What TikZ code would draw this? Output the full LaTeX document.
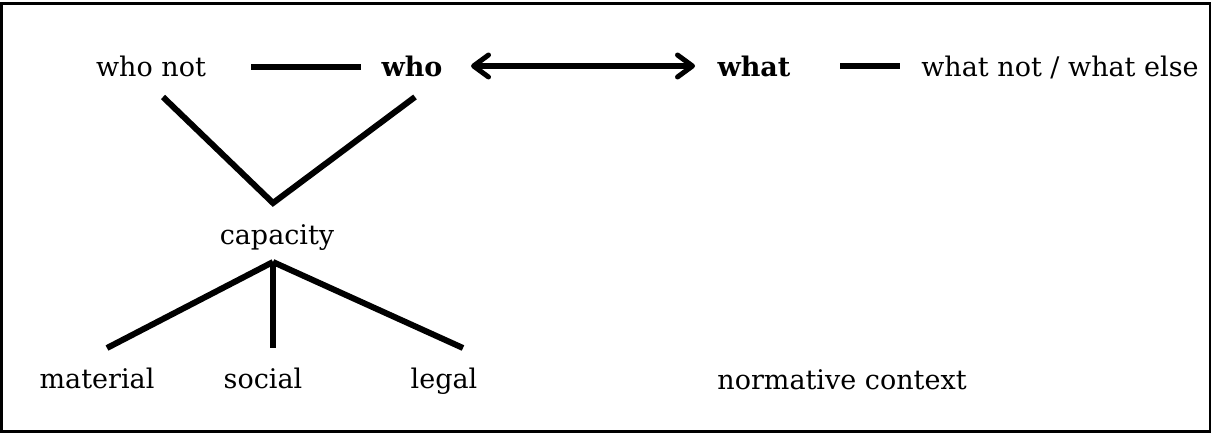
\documentclass[tikz,border=0pt]{standalone}
\usepackage{fontspec}
\setmainfont{DejaVu Serif}
\usetikzlibrary{arrows.meta}
\begin{document}
\begin{tikzpicture}[x=1pt,y=-1pt,
    lbl/.style={anchor=base,inner sep=0pt,font=\fontsize{27}{30}\selectfont},
    conn/.style={line width=6pt},
    barb/.tip={Straight Barb[length=15pt,width=22pt,line width=5pt,round]},
    link/.style={line width=5.5pt,{barb}-{barb}}]
    \useasboundingbox (0,0) rectangle (1212,435);
    % Rahmen
    \draw[line width=2.5pt] (1.5,3.5) rectangle (1210,431.5);

    % Obere Reihe
    \node[lbl] (whonot) at (151,77) {who not};
    \node[lbl] (who) at (412,77) {\textbf{who}};
    \node[lbl] (what) at (754,77) {\textbf{what}};
    \node[lbl] (whatnot) at (1060,77) {what not / what else};

    \draw[conn] ([shift={(100,-10)}]whonot.base) -- ([shift={(-51,-10)}]who.base);
    \draw[link] ([shift={(59,-11)}]who.base) -- ([shift={(-59,-11)}]what.base);
    \draw[conn] ([shift={(86,-11)}]what.base) -- ([shift={(-160,-11)}]whatnot.base);

    % Kapazitaet
    \node[lbl] (capacity) at (277,245) {capacity};
    \draw[conn] ([shift={(12,20)}]whonot.base) -- ([shift={(-4,-42)}]capacity.base)
        -- ([shift={(3,20)}]who.base);

    % Arten der Kapazitaet
    \node[lbl] (material) at (97,388) {material};
    \node[lbl] (social) at (263,388) {social};
    \node[lbl] (legal) at (444,388) {legal};
    \foreach \n/\dx in {material/10,social/10,legal/19}
        \draw[conn] ([shift={(-4,17)}]capacity.base) -- ([shift={(\dx,-40)}]\n.base);

    % Kontext
    \node[lbl] (context) at (842,389) {normative context};
\end{tikzpicture}
\end{document}
